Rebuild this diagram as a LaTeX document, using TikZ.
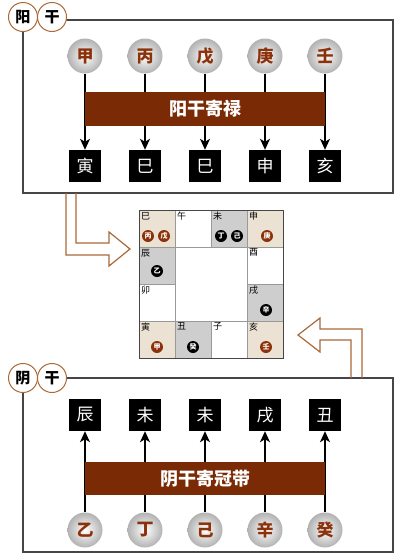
\documentclass[tikz,border=0pt]{standalone}
\usepackage{fontspec}
\newfontfamily\cjk{Noto Sans CJK SC}
\usetikzlibrary{arrows.meta}

\definecolor{band}{RGB}{122,42,4}
\definecolor{rust}{RGB}{140,50,10}
\definecolor{frame}{RGB}{70,70,70}
\definecolor{beige}{RGB}{236,226,212}
\definecolor{cellgray}{RGB}{206,206,206}
\definecolor{hollow}{RGB}{170,105,55}

\tikzset{
	tag/.style={circle, draw=hollow, line width=1pt, fill=white, minimum size=29pt, inner sep=0pt, font=\cjk\bfseries\fontsize{15}{15}\selectfont},
	pearl/.style={circle, minimum size=35pt, inner sep=0pt, shading=radial, inner color=white, outer color=gray!60, text=rust, font=\cjk\bfseries\fontsize{17}{17}\selectfont},
	branch/.style={fill=black, text=white, minimum size=32pt, inner sep=0pt, font=\cjk\fontsize{17}{17}\selectfont},
	banner/.style={fill=band, text=white, minimum width=240pt, minimum height=34pt, inner sep=0pt, font=\cjk\bfseries\fontsize{18}{18}\selectfont},
	link/.style={line width=1.4pt, -{Stealth[length=11pt,width=10pt,inset=3pt]}},
	cell/.style={draw=gray!80, minimum width=36pt, minimum height=37pt, inner sep=0pt},
	lab/.style={anchor=north west, inner sep=2pt, font=\cjk\fontsize{9}{9}\selectfont},
	rdot/.style={circle, fill=rust, text=white, minimum size=12pt, inner sep=0pt, font=\cjk\bfseries\fontsize{7}{7}\selectfont},
	kdot/.style={circle, fill=black, text=white, minimum size=12pt, inner sep=0pt, font=\cjk\bfseries\fontsize{7}{7}\selectfont}
}

\begin{document}
\begin{tikzpicture}[x=1pt, y=-1pt]
	\useasboundingbox (0,0) rectangle (400,557);

	% yang box
	\draw[frame, line width=1.2pt] (23,20) rectangle (393,193);
	\node[tag] (yang) at (23,17) {阳};
	\node[tag] (gan1) at (52,17) {干};

	\node[pearl] (y1) at (85,56) {甲};
	\node[pearl] (y2) at (145,56) {丙};
	\node[pearl] (y3) at (205,56) {戊};
	\node[pearl] (y4) at (265,56) {庚};
	\node[pearl] (y5) at (325,56) {壬};

	\node[branch] (b1) at (85,166) {寅};
	\node[branch] (b2) at (145,166) {巳};
	\node[branch] (b3) at (205,166) {巳};
	\node[branch] (b4) at (265,166) {申};
	\node[branch] (b5) at (325,166) {亥};

	\draw[link] (y1) -- (b1);
	\draw[link] (y2) -- (b2);
	\draw[link] (y3) -- (b3);
	\draw[link] (y4) -- (b4);
	\draw[link] (y5) -- (b5);

	\node[banner] (lu) at (205,109) {阳干寄禄};

	% yin box
	\draw[frame, line width=1.2pt] (23,378) rectangle (393,552);
	\node[tag] (yin) at (23,378) {阴};
	\node[tag] (gan2) at (52,378) {干};

	\node[branch] (c1) at (85,415) {辰};
	\node[branch] (c2) at (145,415) {未};
	\node[branch] (c3) at (205,415) {未};
	\node[branch] (c4) at (265,415) {戌};
	\node[branch] (c5) at (325,415) {丑};

	\node[pearl] (g1) at (85,530) {乙};
	\node[pearl] (g2) at (145,530) {丁};
	\node[pearl] (g3) at (205,530) {己};
	\node[pearl] (g4) at (265,530) {辛};
	\node[pearl] (g5) at (325,530) {癸};

	\draw[link] (g1) -- (c1);
	\draw[link] (g2) -- (c2);
	\draw[link] (g3) -- (c3);
	\draw[link] (g4) -- (c4);
	\draw[link] (g5) -- (c5);

	\node[banner, minimum height=33pt] (guan) at (205,478.5) {阴干寄冠带};

	% hollow arrows
	\draw[hollow, line width=1.2pt, line join=miter] (66,193) -- (66,255) -- (109,255) -- (109,266) -- (130,249) -- (109,232) -- (109,243) -- (76,243) -- (76,193);
	\draw[hollow, line width=1.2pt, line join=miter] (362,378) -- (362,329) -- (320,329) -- (320,318) -- (298,335) -- (320,352) -- (320,340) -- (351,340) -- (351,378);

	% twelve branches
	\node[draw=gray!80, fill=white, minimum width=72pt, minimum height=74pt] (mid) at (211,284) {};
	\node[cell, fill=beige] (si) at (157,228.5) {};
	\node[cell, fill=white] (wu) at (193,228.5) {};
	\node[cell, fill=cellgray] (wei) at (229,228.5) {};
	\node[cell, fill=beige] (shen) at (265,228.5) {};
	\node[cell, fill=cellgray] (chen) at (157,265.5) {};
	\node[cell, fill=white] (you) at (265,265.5) {};
	\node[cell, fill=white] (mao) at (157,302.5) {};
	\node[cell, fill=cellgray] (xu) at (265,302.5) {};
	\node[cell, fill=beige] (yinb) at (157,339.5) {};
	\node[cell, fill=cellgray] (chou) at (193,339.5) {};
	\node[cell, fill=white] (zi) at (229,339.5) {};
	\node[cell, fill=beige] (hai) at (265,339.5) {};
	\draw[frame, line width=0.8pt] (139,210) rectangle (283,358);

	\node[lab] at (si.north west) {巳};
	\node[lab] at (wu.north west) {午};
	\node[lab] at (wei.north west) {未};
	\node[lab] at (shen.north west) {申};
	\node[lab] at (chen.north west) {辰};
	\node[lab] at (you.north west) {酉};
	\node[lab] at (mao.north west) {卯};
	\node[lab] at (xu.north west) {戌};
	\node[lab] at (yinb.north west) {寅};
	\node[lab] at (chou.north west) {丑};
	\node[lab] at (zi.north west) {子};
	\node[lab] at (hai.north west) {亥};

	\node[rdot] at (148,236) {丙};
	\node[rdot] at (164,236) {戊};
	\node[kdot] at (221,236) {丁};
	\node[kdot] at (237,236) {己};
	\node[rdot] at (267,236) {庚};
	\node[kdot] at (157,271) {乙};
	\node[kdot] at (266,310) {辛};
	\node[rdot] at (157,347) {甲};
	\node[kdot] at (193,347) {癸};
	\node[rdot] at (266,347) {壬};
\end{tikzpicture}
\end{document}
